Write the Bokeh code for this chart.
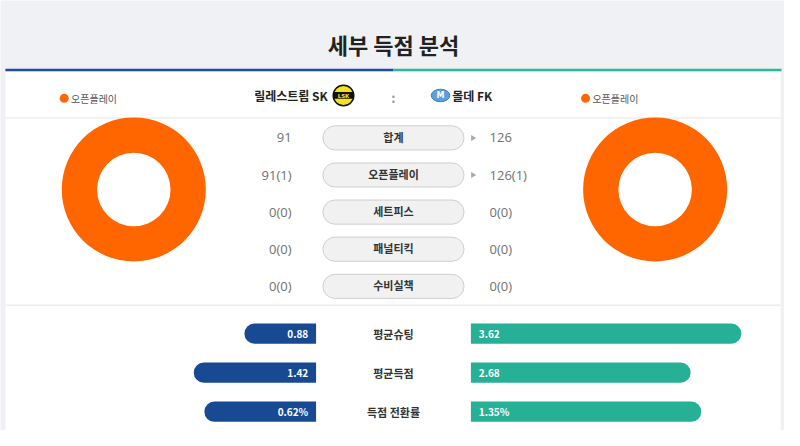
import math
from bokeh.plotting import figure
from bokeh.models import Range1d, ColumnDataSource
from bokeh.core.properties import value
from bokeh.embed import file_html
from bokeh.resources import INLINE

# ---------------- data ----------------
title = "세부 득점 분석"
home_team = "릴레스트룀 SK"
away_team = "몰데 FK"

categories = ["합계", "오픈플레이", "세트피스", "패널티킥", "수비실책"]
home_goals = [91, 91, 0, 0, 0]
home_paren = [None, 1, 0, 0, 0]
away_goals = [126, 126, 0, 0, 0]
away_paren = [None, 1, 0, 0, 0]

pie_labels = ["오픈플레이", "세트피스", "패널티킥", "수비실책"]
pie_colors = ["#ff6600", "#1f4e9c", "#26b096", "#f2c200"]
home_pie = [91, 0, 0, 0]
away_pie = [126, 0, 0, 0]

stat_labels = ["평균슈팅", "평균득점", "득점 전환률"]
home_stat = [0.88, 1.42, 0.62]
away_stat = [3.62, 2.68, 1.35]
stat_suffix = ["", "", "%"]

FONT = value("Noto Sans CJK KR")
BLUE = "#174a93"
TEAL = "#26b096"
GRAY_BG = "#f0f1f4"

# the figure fits the 800x446 window minus the page margin; the data space
# keeps the reference's 800x446 layout
p = figure(width=784, height=430, output_backend="svg", toolbar_location=None,
           x_range=Range1d(0, 800), y_range=Range1d(446, 0), min_border=0)
p.axis.visible = False
p.grid.visible = False
p.outline_line_color = None
p.background_fill_color = GRAY_BG
p.border_fill_color = GRAY_BG

# white panel
p.quad(left=[5], right=[796], top=[74], bottom=[450], fill_color="white", line_color=None)
# title
p.text(x=[401], y=[45], text=[title], text_font=FONT, text_font_size="22px",
       text_font_style="bold", text_color="#222222", text_align="center", text_baseline="middle")
# colored top lines
p.segment(x0=[5], y0=[72], x1=[401], y1=[72], line_color="#1f4e9c", line_width=2.5)
p.segment(x0=[401], y0=[72], x1=[797], y1=[72], line_color="#2cb89a", line_width=2.5)
# separators
p.segment(x0=[5, 5], y0=[122, 316], x1=[796, 796], y1=[122, 316], line_color="#eeeeee", line_width=1.5)

# ---------------- header ----------------
p.text(x=[334], y=[99], text=[home_team], text_font=FONT, text_font_size="12px",
       text_font_style="bold", text_color="#222222", text_align="right", text_baseline="middle")
p.text(x=[461], y=[99], text=[away_team], text_font=FONT, text_font_size="12px",
       text_font_style="bold", text_color="#222222", text_align="left", text_baseline="middle")
p.text(x=[401], y=[101], text=[":"], text_font=FONT, text_font_size="13px",
       text_font_style="bold", text_color="#999999", text_align="center", text_baseline="middle")
# LSK logo
p.circle(x=[350], y=[98.5], radius=10.5, fill_color="#f7e11a", line_color="#111111", line_width=1.5)
p.rect(x=[350], y=[98.5], width=20, height=7, fill_color="#111111", line_color=None)
p.text(x=[350], y=[98.8], text=["LSK"], text_font=value("DejaVu Sans"), text_font_size="5.5px",
       text_font_style="bold", text_color="#f7e11a", text_align="center", text_baseline="middle")
# Molde logo
p.ellipse(x=[449], y=[98.5], width=19, height=13, fill_color="#5d9fd8", line_color="#3f7fbf", line_width=1)
p.text(x=[449], y=[98.8], text=["M"], text_font=value("DejaVu Sans"), text_font_size="8px",
       text_font_style="bold", text_color="white", text_align="center", text_baseline="middle")

# ---------------- donuts + legends ----------------
def donut(cx, vals, legend_x):
    total = sum(vals)
    start = math.pi / 2
    shown = 0
    for lab, v, c in zip(pie_labels, vals, pie_colors):
        if v <= 0:
            continue
        ang = v / total * 2 * math.pi
        if ang >= 2 * math.pi - 1e-9:
            p.annulus(x=[cx], y=[196], inner_radius=37.5, outer_radius=73.5,
                      fill_color=c, line_color=None)
        else:
            p.annular_wedge(x=[cx], y=[196], inner_radius=37.5, outer_radius=73.5,
                            start_angle=start, end_angle=start + ang, fill_color=c, line_color=None)
        start += ang
        lx = legend_x + shown * 80
        p.scatter(x=[lx], y=[101.5], size=9, fill_color=c, line_color=None)
        p.text(x=[lx + 7], y=[101.5], text=[lab], text_font=FONT, text_font_size="10px",
               text_color="#555555", text_align="left", text_baseline="middle")
        shown += 1

donut(136, home_pie, 65)
donut(668, away_pie, 597)

# ---------------- middle table ----------------
def fmt(g, par):
    return f"{g}" if par is None else f"{g}({par})"

row_y = [142.5 + i * 38.5 for i in range(len(categories))]
p.rect(x=[401] * len(categories), y=row_y, width=144, height=25, fill_color="#f1f1f1",
       line_color="#cfcfcf", line_width=1, border_radius=12)
p.text(x=[401] * len(categories), y=[y - 1 for y in row_y], text=categories, text_font=FONT,
       text_font_size="11px", text_font_style="bold", text_color="#333333",
       text_align="center", text_baseline="middle")
p.text(x=[297] * len(categories), y=row_y, text=[fmt(g, q) for g, q in zip(home_goals, home_paren)],
       text_font=value("Open Sans"), text_font_size="13px", text_color="#707070",
       text_align="right", text_baseline="middle")
p.text(x=[499] * len(categories), y=row_y, text=[fmt(g, q) for g, q in zip(away_goals, away_paren)],
       text_font=value("Open Sans"), text_font_size="13px", text_color="#707070",
       text_align="left", text_baseline="middle")
arrow_y = [y for y, h, a in zip(row_y, home_goals, away_goals) if a > h]
p.scatter(x=[482] * len(arrow_y), y=arrow_y, marker="triangle", angle=-math.pi / 2,
          size=6, fill_color="#aaaaaa", line_color=None)

# ---------------- bottom stats bars ----------------
W = 343
stat_y = [345.5 + i * 40.5 for i in range(len(stat_labels))]
src = ColumnDataSource(dict(
    y=stat_y,
    hl=[h / (h + a) * W + 6 for h, a in zip(home_stat, away_stat)],
    al=[a / (h + a) * W for h, a in zip(home_stat, away_stat)],
    htxt=[f"{h:.2f}{s}" for h, s in zip(home_stat, stat_suffix)],
    atxt=[f"{a:.2f}{s}" for a, s in zip(away_stat, stat_suffix)],
    lab=stat_labels,
))
src.data["hleft"] = [322 - w for w in src.data["hl"]]
src.data["aright"] = [480 + w for w in src.data["al"]]
p.hbar(y="y", left="hleft", right=322, height=21, source=src, fill_color=BLUE,
       line_color=None, border_radius=(10, 0, 0, 10))
p.hbar(y="y", left=480, right="aright", height=21, source=src, fill_color=TEAL,
       line_color=None, border_radius=(0, 10, 10, 0))
p.text(x=314, y="y", text="htxt", source=src, text_font=FONT, text_font_size="10px",
       text_font_style="bold", text_color="white", text_align="right", text_baseline="middle")
p.text(x=488, y="y", text="atxt", source=src, text_font=FONT, text_font_size="10px",
       text_font_style="bold", text_color="white", text_align="left", text_baseline="middle")
p.text(x=401, y="y", text="lab", source=src, text_font=FONT, text_font_size="11px",
       text_font_style="bold", text_color="#333333", text_align="center", text_baseline="middle")

open("out.html", "w").write(file_html(p, INLINE))
